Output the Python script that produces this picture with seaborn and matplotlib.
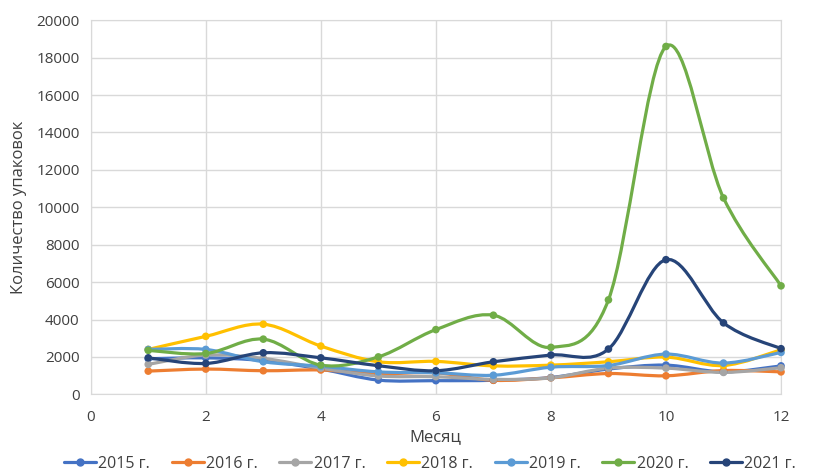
import numpy as np
import pandas as pd
import seaborn as sns
import matplotlib.pyplot as plt
from matplotlib.path import Path
from matplotlib.patches import PathPatch
from matplotlib.lines import Line2D

# Данные
months = list(range(1, 13))
years = ['2015 г.', '2016 г.', '2017 г.', '2018 г.', '2019 г.', '2020 г.', '2021 г.']
v2015 = [1900, 1950, 1800, 1350, 760, 730, 750, 900, 1350, 1560, 1200, 1520]
v2016 = [1240, 1350, 1260, 1300, 1100, 1150, 750, 880, 1110, 990, 1270, 1200]
v2017 = [1600, 2100, 1920, 1400, 980, 940, 800, 880, 1400, 1400, 1170, 1420]
v2018 = [2400, 3100, 3750, 2580, 1740, 1760, 1520, 1560, 1740, 1990, 1540, 2380]
v2019 = [2400, 2400, 1740, 1500, 1200, 1150, 1020, 1450, 1540, 2150, 1670, 2240]
v2020 = [2350, 2180, 2950, 1560, 2000, 3460, 4230, 2510, 5050, 18600, 10500, 5800]
v2021 = [1950, 1650, 2220, 1950, 1530, 1260, 1740, 2100, 2420, 7200, 3820, 2440]
colors = ['#4472C4', '#ED7D31', '#A5A5A5', '#FFC000', '#5B9BD5', '#70AD47', '#264478']

series = [v2015, v2016, v2017, v2018, v2019, v2020, v2021]
df = pd.DataFrame({
    'Месяц': months * len(years),
    'Количество': sum(series, []),
    'Год': [y for y in years for _ in months],
})

sns.set_style('white')
plt.rcParams['font.family'] = ['Open Sans', 'DejaVu Sans']

fig = plt.figure(figsize=(8.27, 4.72), dpi=100)
ax = fig.add_axes([0.1097, 0.1646, 0.8347, 0.7924])


# сглаженная линия как в Excel (кривые Безье)
def smooth_path(x, y, t=1 / 6):
    x = np.asarray(x, float)
    y = np.asarray(y, float)
    n = len(x)
    verts = [(x[0], y[0])]
    codes = [Path.MOVETO]
    for i in range(n - 1):
        p0 = i - 1 if i > 0 else i
        p3 = i + 2 if i + 2 < n else i + 1
        c1 = (x[i] + (x[i + 1] - x[p0]) * t, y[i] + (y[i + 1] - y[p0]) * t)
        c2 = (x[i + 1] - (x[p3] - x[i]) * t, y[i + 1] - (y[p3] - y[i]) * t)
        verts += [c1, c2, (x[i + 1], y[i + 1])]
        codes += [Path.CURVE4] * 3
    return Path(verts, codes)


for vals, c in zip(series, colors):
    ax.add_patch(PathPatch(smooth_path(months, vals), facecolor='none', clip_on=False,
                           edgecolor=c, lw=2.3, capstyle='round', joinstyle='round'))

sns.scatterplot(data=df, x='Месяц', y='Количество', hue='Год', palette=colors,
                s=30, edgecolor='none', legend=False, ax=ax, zorder=3, clip_on=False)

ax.set_xlim(0, 12)
ax.set_ylim(0, 20000)
ax.set_xticks(range(0, 13, 2))
ax.set_yticks(range(0, 20001, 2000))
ax.grid(True, color='#D9D9D9', lw=1)
ax.set_axisbelow(True)
for s in ax.spines.values():
    s.set_color('#D9D9D9')
ax.tick_params(axis='both', length=0, labelsize=11, colors='#404040')
ax.tick_params(axis='x', pad=11)
ax.tick_params(axis='y', pad=8)
ax.set_xlabel('Месяц', fontsize=12, color='#404040', labelpad=3)
ax.set_ylabel('Количество упаковок', fontsize=12, color='#404040', labelpad=7)

handles = [Line2D([], [], color=c, lw=2.3, marker='o', markersize=5) for c in colors]
fig.legend(handles, years, loc='lower center', bbox_to_anchor=(0.52, -0.03), ncol=7,
           frameon=False, fontsize=11.5, handlelength=2.0, handletextpad=0.15,
           columnspacing=1.35, labelcolor='#404040')

plt.savefig('out.png', dpi=100)
